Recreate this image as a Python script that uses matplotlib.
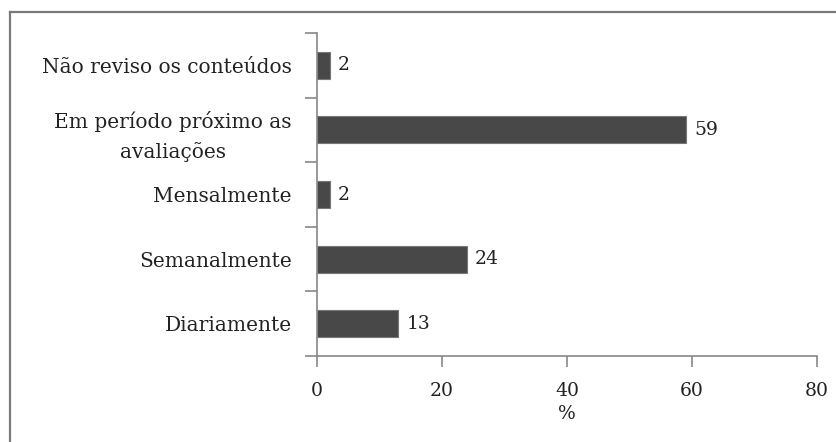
import matplotlib
matplotlib.use("Agg")
import matplotlib.pyplot as plt
from matplotlib.lines import Line2D
import numpy as np

categories = ["Diariamente", "Semanalmente", "Mensalmente",
              "Em período próximo as\navaliações", "Não reviso os conteúdos"]
values = [13, 24, 2, 59, 2]
xticks = [0, 20, 40, 60, 80]

plt.rcParams['font.family'] = ['DejaVu Serif']

W, H = 836, 442
fig = plt.figure(figsize=(W / 100, H / 100), dpi=100)
ax = fig.add_axes([317 / W, 1 - 356 / H, 500 / W, (356 - 33) / H])

y = np.arange(len(categories))
bar_color = "#484848"
ax.barh(y, values, height=0.42, color=bar_color, edgecolor="#777777", linewidth=0.8)
for yi, v in zip(y, values):
    ax.text(v + 1.3, yi, str(v), va="center", ha="left", fontsize=13.5, color="#222222")

ax.set_xlim(0, 80)
ax.set_ylim(-0.5, len(categories) - 0.5)
ax.set_xticks(xticks)
ax.set_xticklabels([str(t) for t in xticks], fontsize=13.5, color="#222222")
ax.set_yticks(y)
ax.set_yticklabels(categories, fontsize=14.5, color="#222222", linespacing=1.6,
                   multialignment="center")
ax.set_yticks(np.arange(len(categories) + 1) - 0.5, minor=True)
ax.tick_params(axis="y", which="major", length=0, pad=18)
ax.tick_params(axis="y", which="minor", length=9, width=1.2, color="#888888", direction="out")
ax.tick_params(axis="x", which="major", length=8, width=1.2, color="#888888", direction="out", pad=11)
ax.set_xlabel("%", fontsize=13.5, labelpad=3, color="#222222")

for s in ["top", "right"]:
    ax.spines[s].set_visible(False)
for s in ["left", "bottom"]:
    ax.spines[s].set_color("#888888")
    ax.spines[s].set_linewidth(1.2)

# outer frame (left and top edges)
fig.add_artist(Line2D([10 / W, 10 / W], [0, 1 - 12 / H], transform=fig.transFigure,
                      color="#7a7a7a", linewidth=1.6))
fig.add_artist(Line2D([10 / W, 1], [1 - 12 / H, 1 - 12 / H], transform=fig.transFigure,
                      color="#7a7a7a", linewidth=1.6))

fig.savefig("out.png", dpi=100, facecolor="white")
